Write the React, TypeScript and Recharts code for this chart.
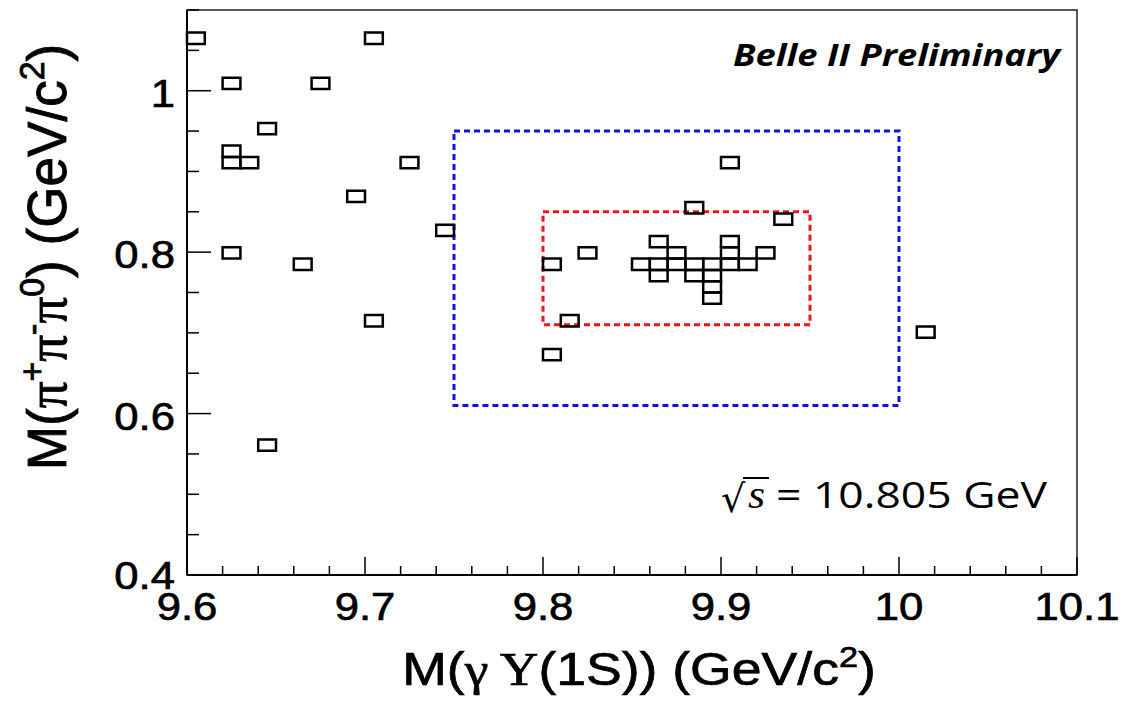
import React from 'react';
import { ComposedChart, XAxis, YAxis, ReferenceArea, Scatter } from 'recharts';

// lower edges of the filled bins (bin size 0.01 x 0.014)
const binX = [9.60, 9.70, 9.62, 9.67, 9.64, 9.62, 9.62, 9.63, 9.72, 9.69, 9.74, 9.62, 9.66, 9.70, 9.64,
  9.90, 9.88, 9.93, 9.82, 9.80, 9.81, 9.80, 10.01,
  9.86, 9.90, 9.87, 9.90, 9.92, 9.85, 9.86, 9.87, 9.88, 9.89, 9.90, 9.91, 9.86, 9.88, 9.89, 9.89, 9.89];
const binY = [1.058, 1.058, 1.002, 1.002, 0.946, 0.918, 0.904, 0.904, 0.904, 0.862, 0.820, 0.792, 0.778, 0.708, 0.554,
  0.904, 0.848, 0.834, 0.792, 0.778, 0.708, 0.666, 0.694,
  0.806, 0.806, 0.792, 0.792, 0.792, 0.778, 0.778, 0.778, 0.778, 0.778, 0.778, 0.778, 0.764, 0.764, 0.764, 0.750, 0.736];
const BIN_W = 0.01;
const BIN_H = 0.014;

const sideband = { x1: 9.75, x2: 10.0, y1: 0.61, y2: 0.95 };
const signal = { x1: 9.80, x2: 9.95, y1: 0.71, y2: 0.85 };

const xTicks = [9.6, 9.62, 9.64, 9.66, 9.68, 9.7, 9.72, 9.74, 9.76, 9.78, 9.8, 9.82, 9.84, 9.86, 9.88,
  9.9, 9.92, 9.94, 9.96, 9.98, 10, 10.02, 10.04, 10.06, 10.08, 10.1];
const xMajor = [9.6, 9.7, 9.8, 9.9, 10, 10.1];
const xLabels = ['9.6', '9.7', '9.8', '9.9', '10', '10.1'];
const yTicks = [0.4, 0.45, 0.5, 0.55, 0.6, 0.65, 0.7, 0.75, 0.8, 0.85, 0.9, 0.95, 1.0, 1.05, 1.1];
const yMajor = [0.4, 0.6, 0.8, 1.0];
const yLabels = ['0.4', '0.6', '0.8', '1'];

const points = binX.map((x, i) => ({ x: x + BIN_W / 2, y: binY[i] + BIN_H / 2 }));
const sans = '"Liberation Sans", Arial, sans-serif';
const serif = '"Liberation Serif", "DejaVu Serif", serif';

const XTick = (props: any) => {
  const { x, y, payload } = props;
  const k = xMajor.findIndex((m) => Math.abs(m - payload.value) < 1e-6);
  return (
    <g>
      <line x1={x} x2={x} y1={y} y2={y - (k >= 0 ? 18 : 9)} stroke="#000" strokeWidth={1.5} />
      {k >= 0 && (
        <text transform={`translate(${x},${y + 45}) scale(1.12,1)`} textAnchor="middle" fontFamily={sans}
          fontSize={39} fill="#000" stroke="#000" strokeWidth={0.7}>
          {xLabels[k]}
        </text>
      )}
    </g>
  );
};

const YTick = (props: any) => {
  const { x, y, payload } = props;
  const k = yMajor.findIndex((m) => Math.abs(m - payload.value) < 1e-6);
  return (
    <g>
      <line x1={x} x2={x + (k >= 0 ? 24 : 12)} y1={y} y2={y} stroke="#000" strokeWidth={1.5} />
      {k >= 0 && (
        <text transform={`translate(${x - 12},${y + (k === 0 ? 14 : 16)}) scale(1.12,1)`} textAnchor="end" fontFamily={sans}
          fontSize={39} fill="#000" stroke="#000" strokeWidth={0.7}>
          {yLabels[k]}
        </text>
      )}
    </g>
  );
};

export default function App() {
  return (
    <div style={{ position: 'absolute', left: 0, top: 0, width: 1145, height: 701, background: '#fff' }}>
      <ComposedChart width={1145} height={701} data={points} margin={{ top: 10, right: 68, bottom: 0, left: 0 }}>
        <XAxis type="number" dataKey="x" domain={[9.6, 10.1]} ticks={xTicks} interval={0} height={126}
          tickSize={0} tickMargin={0} tickLine={false} tick={XTick} allowDataOverflow
          axisLine={{ stroke: '#000', strokeWidth: 2 }} />
        <YAxis type="number" dataKey="y" domain={[0.4, 1.1]} ticks={yTicks} interval={0} width={187}
          tickSize={0} tickMargin={0} tickLine={false} tick={YTick} allowDataOverflow
          axisLine={{ stroke: '#000', strokeWidth: 2 }} />
        <ReferenceArea x1={9.6} x2={10.1} y1={0.4} y2={1.1} fill="none" stroke="#222" strokeWidth={1.5} ifOverflow="visible" />
        <ReferenceArea {...sideband} fill="none" stroke="#1010e8" strokeWidth={3} strokeDasharray="6 4" ifOverflow="visible" />
        <ReferenceArea {...signal} fill="none" stroke="#e81818" strokeWidth={3} strokeDasharray="6 4" ifOverflow="visible" />
        {binX.map((x, i) => (
          <ReferenceArea key={i} x1={x} x2={x + BIN_W} y1={binY[i]} y2={binY[i] + BIN_H}
            fill="none" stroke="#000" strokeWidth={2.5} ifOverflow="visible" />
        ))}
        <Scatter dataKey="y" isAnimationActive={false} shape={() => <g />} />
      </ComposedChart>
      <svg width={1145} height={701} style={{ position: 'absolute', left: 0, top: 0, pointerEvents: 'none' }}>
        <text x={733} y={66} fontFamily='"Open Sans", Lato, sans-serif' fontWeight={700} fontStyle="italic"
          fontSize={30} textLength={327} lengthAdjust="spacingAndGlyphs" fill="#000">Belle II Preliminary</text>
        <text x={721} y={512} fontFamily='"DejaVu Sans", sans-serif' fontSize={38} fill="#000">√</text>
        <line x1={743} x2={769} y1={478} y2={478} stroke="#000" strokeWidth={2} />
        <text transform="translate(748,508) scale(1.1,1)" fontFamily={serif} fontStyle="italic" fontSize={40} fill="#000">s</text>
        <text x={776} y={508} fontFamily='"Open Sans", sans-serif' fontSize={37} textLength={271}
          lengthAdjust="spacingAndGlyphs" fill="#000">= 10.805 GeV</text>
        <text transform="translate(639,685) scale(1.14,1)" textAnchor="middle" fontFamily={sans} fontSize={47}
          fill="#000" stroke="#000" strokeWidth={0.7}>
          <tspan>M(</tspan>
          <tspan fontFamily={serif}>γ Υ</tspan>
          <tspan>(1S)) (GeV/c</tspan>
          <tspan dy={-18} fontSize={30}>2</tspan>
          <tspan dy={18}>)</tspan>
        </text>
        <text transform="translate(66,257) scale(1.2,1.13) rotate(-90)" textAnchor="middle" fontFamily={sans} fontSize={47}
          fill="#000" stroke="#000" strokeWidth={0.7}>
          <tspan>M(</tspan>
          <tspan fontFamily={serif}>π</tspan>
          <tspan dy={-18} fontSize={30}>+</tspan>
          <tspan dy={18} fontFamily={serif}>π</tspan>
          <tspan dy={-18} fontSize={30}>-</tspan>
          <tspan dy={18} fontFamily={serif}>π</tspan>
          <tspan dy={-18} fontSize={30}>0</tspan>
          <tspan dy={18}>) (GeV/c</tspan>
          <tspan dy={-18} fontSize={30}>2</tspan>
          <tspan dy={18}>)</tspan>
        </text>
      </svg>
    </div>
  );
}
